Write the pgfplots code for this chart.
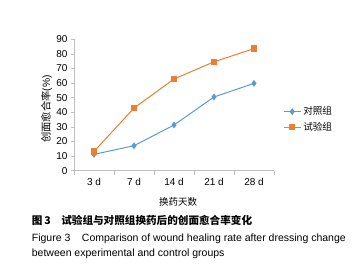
\documentclass[border=0pt]{standalone}
\usepackage{fontspec}
\setmainfont{Liberation Sans}
\newfontfamily\cjk{Noto Sans CJK SC}
\usepackage{pgfplots}
\pgfplotsset{compat=1.18}
\definecolor{cblue}{HTML}{5B9BD5}
\definecolor{corange}{HTML}{ED7D31}
\definecolor{axgray}{HTML}{BFBFBF}
\begin{document}
\begin{tikzpicture}
\useasboundingbox (0,0) rectangle (364pt,277pt);
\begin{axis}[
  at={(74pt,106.3pt)}, anchor=south west,
  scale only axis, width=200pt, height=131.4pt,
  xmin=-0.5, xmax=4.5, ymin=0, ymax=90,
  axis lines=left,
  axis line style={-, draw=axgray, line width=0.8pt},
  tick align=outside,
  xtick={0,...,4}, xticklabels={3 d,7 d,14 d,21 d,28 d},
  minor xtick={-0.5,0.5,...,4.5},
  ytick={0,10,...,90},
  major tick length=3pt, minor tick length=4pt,
  tick style={draw=axgray, line width=0.8pt},
  major x tick style={draw=none},
  /pgf/number format/assume math mode=true,
  tick label style={font=\fontsize{10}{11}\selectfont},
  xticklabel style={yshift=-1pt},
  xlabel={\cjk 换药天数},
  xlabel style={at={(axis description cs:0.52,-0.236)}, anchor=center, font=\fontsize{9.5}{10}\selectfont},
  ylabel={\cjk 创面愈合率\rmfamily(\%)},
  ylabel style={at={(axis description cs:-0.137,0.47)}, anchor=center, font=\fontsize{10.3}{11}\selectfont},
  legend style={at={(axis description cs:1.03,0.39)}, anchor=west, draw=none, fill=none,
    font=\cjk\fontsize{9.6}{10}\selectfont, row sep=2pt},
  legend cell align=left,
]
\addplot[cblue, line width=1pt, mark=diamond*, mark size=2.6pt, mark options={solid, fill=cblue, draw=cblue}]
  coordinates {(0,11.2)(1,17.1)(2,31.3)(3,50.5)(4,59.8)};
\addlegendentry{对照组}
\addplot[corange, line width=1pt, mark=square*, mark size=2.7pt, mark options={solid, fill=corange, draw=corange}]
  coordinates {(0,13.2)(1,42.9)(2,62.8)(3,74.6)(4,83.6)};
\addlegendentry{试验组}
\end{axis}
\node[anchor=base west, inner sep=0] at (31.7pt,52.7pt) {\cjk\bfseries\fontsize{10.6}{12}\selectfont 图\,3\hspace{1em}试验组与对照组换药后的创面愈合率变化};
\node[anchor=base west, inner sep=0] at (31.7pt,35.5pt) {\fontsize{10.5}{12}\selectfont Figure 3\hspace{1.1em}Comparison of wound healing rate after dressing change};
\node[anchor=base west, inner sep=0] at (31.7pt,20.5pt) {\fontsize{10.5}{12}\selectfont between experimental and control groups};
\end{tikzpicture}
\end{document}
